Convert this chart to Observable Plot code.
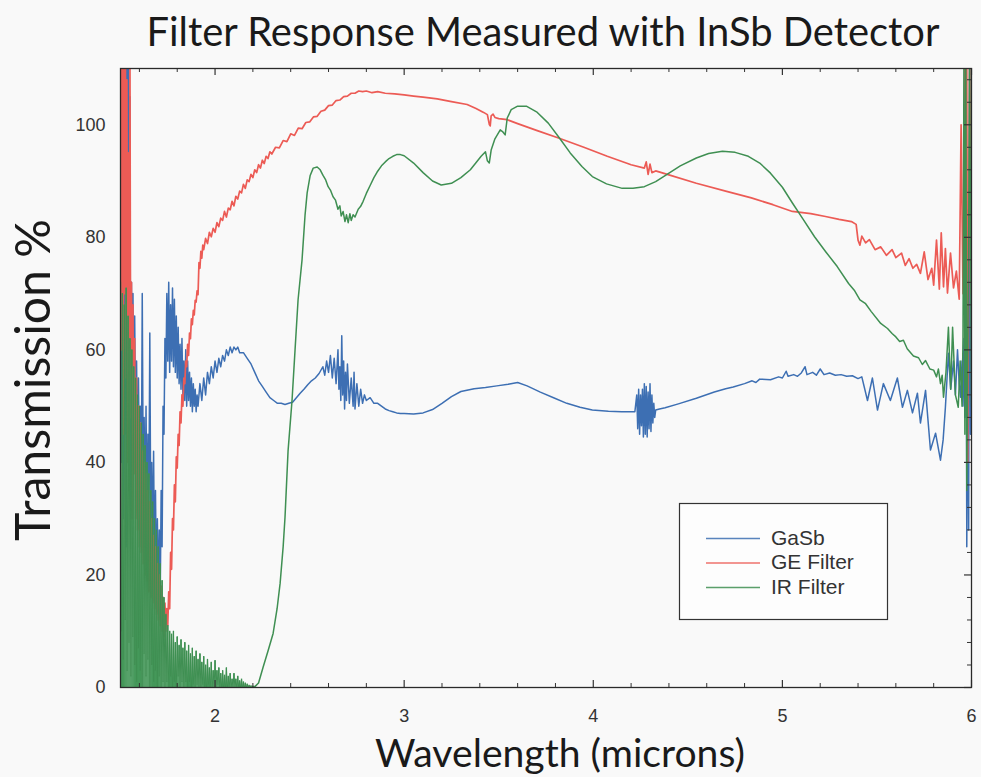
<!DOCTYPE html>
<html><head><meta charset="utf-8">
<script src="https://cdn.jsdelivr.net/npm/d3@7"></script>
<script src="https://cdn.jsdelivr.net/npm/@observablehq/plot@0.6"></script>
<style>
html,body{margin:0;padding:0;background:#f9f9f9;}
#wrap{width:981px;height:777px;overflow:hidden;background:#f9f9f9;}
</style></head><body><div id="wrap"></div>
<script>
// ---------- data ----------
const seriesNames = ["GaSb", "GE Filter", "IR Filter"];
const seriesColors = ["#3d6fb3", "#ec5b55", "#3f8f52"];

const xMajorTicks = [2, 3, 4, 5, 6];
const xMinorTicks = [1.6,1.8,2.2,2.4,2.6,2.8,3.2,3.4,3.6,3.8,4.2,4.4,4.6,4.8,5.2,5.4,5.6,5.8];
const yMajorTicks = [0, 20, 40, 60, 80, 100];
const yMinorTicks = [4,8,12,16,24,28,32,36,44,48,52,56,64,68,72,76,84,88,92,96,104,108];

// GaSb  [wavelength (µm), transmission %]
const gasb = [
[1.502,112],[1.506,40],[1.51,112],[1.514,30],[1.518,112],[1.522,45],[1.526,112],[1.53,25],[1.534,112],[1.538,50],[1.542,112],[1.546,35],[1.55,105],[1.554,30],[1.558,72],[1.562,40],[1.566,70],[1.57,42],[1.575,66],[1.58,45],[1.585,58],[1.59,40],[1.595,55],[1.6,38],[1.605,50],[1.61,35],[1.615,70],[1.62,38],[1.625,48],[1.63,30],[1.635,50],[1.64,28],[1.645,45],[1.65,32],[1.655,63],[1.66,30],[1.665,40],[1.67,24],[1.675,42],[1.68,20],[1.685,35],[1.69,17],[1.695,30],[1.7,15],[1.705,28],[1.71,16],[1.715,35],[1.72,25],[1.725,50],[1.73,45],[1.735,62],[1.74,55],[1.745,70],[1.75,58],[1.755,72],[1.76,56],[1.765,68],[1.77,58],[1.775,71],[1.78,57],[1.785,69],[1.79,56],[1.795,66],[1.8,55],[1.805,64],[1.81,54],[1.815,61],[1.82,53],[1.825,62],[1.83,52],[1.835,58],[1.84,51],[1.845,60],[1.85,50],[1.855,58],[1.86,51],[1.865,56],[1.87,50],[1.875,55],[1.88,49],[1.885,54],[1.89,50],[1.895,53],[1.9,49],[1.905,52],[1.91,50],[1.92,54],[1.93,51],[1.94,55],[1.95,52],[1.96,56],[1.97,54],[1.98,57],[1.99,55],[2.0,58],[2.01,56],[2.02,58.5],[2.03,57],[2.04,59],[2.05,58],[2.06,60],[2.07,59],[2.08,60.5],[2.09,59.5],[2.1,60.5],[2.11,60],[2.12,60.5],[2.13,59.5],[2.15,59.5],[2.17,58.5],[2.19,57.5],[2.21,56],[2.23,54.5],[2.25,53.5],[2.27,52.5],[2.29,51.5],[2.31,51],[2.33,50.5],[2.35,50.5],[2.37,50.3],[2.39,50.5],[2.41,50.7],[2.43,51.5],[2.45,52.3],[2.47,53],[2.49,53.8],[2.51,54.5],[2.53,55],[2.55,55.8],[2.57,57],[2.58,55.5],[2.59,58],[2.6,56],[2.61,59],[2.62,55],[2.63,58.5],[2.64,54],[2.65,60],[2.655,53],[2.66,57],[2.665,51],[2.67,62.5],[2.675,52],[2.68,58],[2.685,49.5],[2.69,56],[2.695,51],[2.7,57.5],[2.71,50.5],[2.72,55],[2.73,50],[2.735,56],[2.74,49.5],[2.75,54],[2.76,50],[2.77,53],[2.78,50.5],[2.79,52],[2.8,51],[2.82,51.5],[2.84,50.5],[2.86,50.5],[2.88,50],[2.9,49.5],[2.92,49.2],[2.94,49],[2.96,48.8],[2.98,48.7],[3.0,48.7],[3.05,48.6],[3.1,48.8],[3.15,49.4],[3.2,50.5],[3.25,51.7],[3.3,52.6],[3.37,53.1],[3.43,53.3],[3.49,53.6],[3.55,53.9],[3.6,54.2],[3.65,53.6],[3.72,52.5],[3.79,51.5],[3.86,50.5],[3.93,49.8],[3.995,49.3],[4.08,49.1],[4.15,49],[4.22,49],[4.23,52],[4.235,46],[4.24,53],[4.245,45],[4.25,52],[4.255,46.5],[4.26,53],[4.265,44.5],[4.27,54],[4.275,45],[4.28,53.5],[4.285,44.5],[4.29,52.5],[4.295,46],[4.3,54],[4.305,45.5],[4.31,52],[4.315,47],[4.32,50.5],[4.325,48],[4.33,49.3],[4.35,49.5],[4.38,49.7],[4.45,50.4],[4.545,51.4],[4.64,52.5],[4.7,53.1],[4.74,53.4],[4.8,54],[4.84,54.5],[4.86,54.2],[4.88,54.8],[4.937,54.7],[4.98,55.2],[5.0,55],[5.02,56.2],[5.03,55.3],[5.06,55.6],[5.08,55.3],[5.1,55.9],[5.12,57],[5.13,55.6],[5.16,56],[5.18,55.5],[5.2,56.6],[5.22,55.6],[5.25,55.9],[5.28,55.5],[5.31,55.6],[5.34,55.3],[5.37,55.4],[5.4,54.9],[5.42,55.2],[5.45,51],[5.476,55],[5.503,49.3],[5.534,54],[5.571,51],[5.608,55],[5.635,49.8],[5.661,52.8],[5.688,48.8],[5.714,52.3],[5.73,47],[5.757,52.8],[5.783,42.2],[5.81,45.2],[5.836,40.4],[5.85,44],[5.862,49.8],[5.878,59.4],[5.89,53],[5.905,58],[5.915,52],[5.926,60],[5.935,54],[5.942,51.6],[5.95,58],[5.955,50],[5.96,62],[5.965,48],[5.97,112],[5.975,25],[5.98,60],[5.985,28],[5.99,112],[5.995,45],[6.0,60]
];

// GE Filter
const geFilter = [
[1.502,112],[1.506,60],[1.51,112],[1.514,45],[1.518,112],[1.522,70],[1.526,112],[1.53,55],[1.534,108],[1.538,40],[1.542,95],[1.546,35],[1.55,112],[1.554,48],[1.558,72],[1.562,30],[1.566,68],[1.57,38],[1.575,62],[1.58,30],[1.585,55],[1.59,28],[1.595,50],[1.6,25],[1.605,47],[1.61,24],[1.615,42],[1.62,22],[1.625,40],[1.63,20],[1.635,38],[1.64,19],[1.645,35],[1.65,17],[1.655,33],[1.66,16],[1.665,30],[1.67,15],[1.675,27],[1.68,14],[1.685,25],[1.69,13],[1.695,22],[1.7,12],[1.705,20],[1.71,11],[1.715,18],[1.72,10],[1.725,16],[1.73,9],[1.735,15],[1.74,10],[1.745,14],[1.75,11],[1.755,17],[1.76,14],[1.765,24],[1.77,21],[1.775,30],[1.78,28],[1.785,36],[1.79,33],[1.795,41],[1.8,39],[1.805,45],[1.81,43],[1.815,49],[1.82,47],[1.825,52],[1.83,50],[1.835,55],[1.84,54],[1.845,58],[1.85,57],[1.855,61],[1.86,59],[1.865,63],[1.87,62],[1.875,65.5],[1.88,64.5],[1.885,67],[1.89,66.2],[1.895,68.8],[1.9,68.5],[1.905,70.5],[1.91,69.8],[1.915,75.5],[1.92,74.5],[1.925,77.5],[1.93,76.3],[1.935,78.6],[1.94,77.8],[1.95,79.8],[1.96,78.9],[1.97,80.9],[1.98,80.1],[1.99,81.6],[2.0,80.9],[2.01,82.6],[2.02,81.9],[2.03,83.4],[2.04,83],[2.05,84.6],[2.06,83.6],[2.07,85.2],[2.08,84.9],[2.09,86.4],[2.1,85.6],[2.11,87.3],[2.12,86.8],[2.13,88.2],[2.14,87.9],[2.15,89.4],[2.16,88.7],[2.17,90.2],[2.18,89.9],[2.19,91.2],[2.2,90.6],[2.21,92],[2.22,91.5],[2.23,92.9],[2.24,92.3],[2.25,93.7],[2.26,93.1],[2.27,94.4],[2.28,94],[2.29,95.2],[2.3,94.8],[2.32,96],[2.34,95.9],[2.36,97.2],[2.38,97],[2.4,98.4],[2.42,98.1],[2.44,99.4],[2.46,99.3],[2.48,100.4],[2.5,100.5],[2.52,101.4],[2.54,101.5],[2.56,102.4],[2.58,102.6],[2.6,103.4],[2.62,103.5],[2.64,104.3],[2.66,104.4],[2.68,105],[2.7,105.1],[2.72,105.6],[2.74,105.6],[2.76,106],[2.78,105.9],[2.8,106],[2.83,105.7],[2.86,105.9],[2.9,105.6],[2.95,105.5],[3.0,105.3],[3.05,105.1],[3.1,104.9],[3.175,104.6],[3.25,104.1],[3.333,103.6],[3.38,102.9],[3.42,102.2],[3.44,101.8],[3.45,100.1],[3.455,99.8],[3.46,101.6],[3.47,101.9],[3.48,101.3],[3.5,101.1],[3.545,100.9],[3.6,100.2],[3.7,99],[3.82,97.6],[3.95,96],[4.074,94.4],[4.2,92.9],[4.27,92.3],[4.28,93.4],[4.29,91.2],[4.3,93],[4.31,91.5],[4.33,91.8],[4.4,91.1],[4.545,89.6],[4.7,88.2],[4.836,87],[4.95,85.8],[5.053,84.6],[5.15,84.2],[5.228,83.7],[5.3,83.2],[5.365,82.8],[5.39,82.3],[5.4,79.5],[5.41,78.6],[5.42,80.2],[5.44,79],[5.46,79.6],[5.49,77.8],[5.52,78.3],[5.55,76.8],[5.58,77.8],[5.6,76.4],[5.63,77.2],[5.65,75],[5.67,76.2],[5.69,74.5],[5.71,75.2],[5.73,73.6],[5.75,77.4],[5.77,72.5],[5.79,74.5],[5.8,71.5],[5.815,79.5],[5.83,70.8],[5.84,80.8],[5.852,71.2],[5.862,78],[5.873,70.1],[5.889,77.2],[5.905,71],[5.92,74],[5.935,69],[5.945,100],[5.955,70],[5.96,80],[5.965,112],[5.97,55],[5.975,112],[5.98,40],[5.99,112],[6.0,70]
];

// IR Filter: noisy floor (up to 2.2 µm) then the measured curve
const irNoise = [
[1.5,72],[1.505,10],[1.51,70],[1.515,5],[1.52,68],[1.525,12],[1.53,71],[1.535,3],[1.54,66],[1.545,8],[1.55,62],[1.555,2],[1.56,60],[1.565,9],[1.57,57],[1.575,4],[1.58,55],[1.585,1],[1.59,52],[1.595,7],[1.6,50],[1.605,3],[1.61,47],[1.615,0],[1.62,45],[1.625,6],[1.63,43],[1.635,2],[1.64,40],[1.645,5],[1.65,38],[1.655,0],[1.66,35],[1.665,4],[1.67,33],[1.675,1],[1.68,30],[1.685,3],[1.69,28],[1.695,0],[1.7,25],[1.705,2],[1.71,22],[1.715,0],[1.72,19],[1.725,1],[1.73,16],[1.735,0],[1.74,13],[1.745,1],[1.75,11],[1.755,0],[1.76,10],[1.765,2],[1.77,9.5],[1.775,0],[1.78,10],[1.785,1],[1.79,8],[1.795,0],[1.8,9],[1.805,2],[1.81,7.5],[1.815,0],[1.82,8.5],[1.825,1],[1.83,7],[1.835,0],[1.84,8],[1.845,1],[1.85,6.5],[1.855,0],[1.86,7.5],[1.865,1],[1.87,6],[1.875,0],[1.88,7],[1.885,0.5],[1.89,5.5],[1.895,0],[1.9,6.5],[1.905,0.5],[1.91,5],[1.915,0],[1.92,6],[1.925,0],[1.93,4.5],[1.935,0.5],[1.94,5.5],[1.945,0],[1.95,4],[1.955,0],[1.96,5],[1.965,0.5],[1.97,3.5],[1.975,0],[1.98,4.5],[1.985,0],[1.99,3],[1.995,0],[2.0,4.8],[2.005,0],[2.01,3],[2.015,0.5],[2.02,3.5],[2.025,0],[2.03,2.5],[2.035,0],[2.04,3],[2.045,0],[2.05,2.2],[2.055,0],[2.06,3.5],[2.065,0],[2.07,2],[2.075,0],[2.08,2.5],[2.085,0],[2.09,1.5],[2.095,0],[2.1,2.5],[2.105,0],[2.11,1.5],[2.115,0],[2.12,2],[2.125,0],[2.13,1.2],[2.135,0],[2.14,1.5],[2.145,0],[2.15,1],[2.155,0],[2.16,0.8],[2.165,0],[2.17,0.6],[2.175,0],[2.18,0.4],[2.185,0],[2.19,0.3],[2.195,0],[2.2,0.2]
];
const irFilter = [
[2.2,0.2],[2.212,0.2],[2.23,0.8],[2.254,3.6],[2.28,6.5],[2.307,9.6],[2.328,14],[2.344,18.5],[2.36,25],[2.37,30.3],[2.386,42],[2.407,51],[2.423,60],[2.439,68.9],[2.46,76],[2.476,84],[2.487,87.9],[2.503,91],[2.519,92.3],[2.54,92.5],[2.556,92],[2.571,91],[2.585,90.2],[2.598,89],[2.61,88.4],[2.624,87.2],[2.637,86.6],[2.65,85],[2.66,85.6],[2.667,83.8],[2.677,84.6],[2.687,82.8],[2.695,84],[2.704,82.6],[2.713,84.2],[2.72,83],[2.73,84],[2.74,83.6],[2.757,85],[2.77,85.5],[2.783,86.4],[2.8,87.8],[2.82,89.2],[2.84,90.6],[2.857,91.6],[2.88,92.7],[2.9,93.4],[2.92,94],[2.94,94.4],[2.96,94.7],[2.98,94.7],[3.0,94.5],[3.05,93.2],[3.1,91.5],[3.15,90],[3.196,89.3],[3.25,89.6],[3.3,90.6],[3.35,92],[3.407,94.4],[3.43,95.2],[3.44,93.6],[3.45,93.2],[3.46,95.5],[3.48,97.5],[3.508,99.1],[3.52,98.8],[3.534,98.2],[3.545,101.2],[3.566,102.7],[3.6,103.3],[3.646,103.3],[3.7,102.3],[3.762,100.3],[3.82,97.7],[3.878,95],[3.94,92.6],[3.995,90.8],[4.07,89.5],[4.153,88.7],[4.21,88.7],[4.27,89],[4.33,89.9],[4.386,91.1],[4.46,92.7],[4.545,94.1],[4.61,94.9],[4.683,95.3],[4.75,95.1],[4.82,94.4],[4.88,93.2],[4.937,91.4],[5.0,88.9],[5.053,86.1],[5.11,83.2],[5.17,80.1],[5.23,77.4],[5.29,74.8],[5.35,71.8],[5.38,70.6],[5.41,68.9],[5.44,68.2],[5.47,66.8],[5.52,64.7],[5.556,63.8],[5.58,62.9],[5.6,62.3],[5.62,61.5],[5.64,61.7],[5.66,60.2],[5.693,58.9],[5.72,58.6],[5.74,57.4],[5.757,58.1],[5.78,56.6],[5.8,56.4],[5.815,55.2],[5.825,56.6],[5.836,54],[5.845,55.5],[5.852,51.6],[5.865,56],[5.878,64],[5.89,53],[5.9,64],[5.915,52],[5.93,49.8],[5.94,58],[5.95,50],[5.955,62],[5.96,112],[5.965,45],[5.97,112],[5.975,35],[5.985,80],[5.99,112],[6.0,50]
];

// ---------- chart ----------
const W = 981, H = 777;
const M = {left: 120, right: 10, top: 68, bottom: 90};
const frameW = W - M.left - M.right, frameH = H - M.top - M.bottom;
const tickColor = "#333";
const X = d => d[0], Y = d => d[1];

const svg = Plot.plot({
  width: W, height: H,
  marginLeft: M.left, marginRight: M.right, marginTop: M.top, marginBottom: M.bottom,
  x: {domain: [1.5, 6], axis: null},
  y: {domain: [0, 110], axis: null},
  style: {background: "transparent", fontFamily: "'Liberation Sans', Arial, sans-serif", overflow: "visible"},
  marks: [
    Plot.line(gasb, {x: X, y: Y, stroke: seriesColors[0], strokeWidth: 1.5, clip: true}),
    Plot.line(geFilter, {x: X, y: Y, stroke: seriesColors[1], strokeWidth: 1.7, clip: true}),
    Plot.ruleX(irNoise, {x: X, y1: 0, y2: Y, stroke: "#45985a", strokeWidth: 1.3, clip: true}),
    Plot.line(irNoise, {x: X, y: Y, stroke: "#3f8f52", strokeWidth: 1, clip: true}),
    Plot.line(irFilter, {x: X, y: Y, stroke: seriesColors[2], strokeWidth: 1.5, clip: true}),
    Plot.ruleX(xMajorTicks, {x: d => d, insetTop: frameH - 7, stroke: tickColor, strokeWidth: 1.2}),
    Plot.ruleX(xMajorTicks, {x: d => d, insetBottom: frameH - 7, stroke: tickColor, strokeWidth: 1.2}),
    Plot.ruleX(xMinorTicks, {x: d => d, insetTop: frameH - 4, stroke: tickColor, strokeWidth: 1}),
    Plot.ruleX(xMinorTicks, {x: d => d, insetBottom: frameH - 4, stroke: tickColor, strokeWidth: 1}),
    Plot.ruleY(yMajorTicks, {y: d => d, insetLeft: frameW - 7, stroke: tickColor, strokeWidth: 1.2}),
    Plot.ruleY(yMinorTicks, {y: d => d, insetLeft: frameW - 4, stroke: tickColor, strokeWidth: 1}),
    Plot.frame({stroke: "#2a2a2a", strokeWidth: 1.3}),
    Plot.text(xMajorTicks, {x: d => d, frameAnchor: "bottom", dy: 29, text: d => String(d),
      fontSize: 18, fill: "#333", lineAnchor: "middle"}),
    Plot.text(yMajorTicks, {y: d => d, frameAnchor: "left", dx: -15, textAnchor: "end",
      text: d => String(d), fontSize: 18, fill: "#333", lineAnchor: "middle"})
  ]
});
document.getElementById("wrap").appendChild(svg);

// ---------- titles (fitted to the reference widths) ----------
const ctx = document.createElement("canvas").getContext("2d");
function fitSize(str, family, target) {
  ctx.font = `100px ${family}`;
  return 100 * target / ctx.measureText(str).width;
}
const titleFont = "Lato, 'Open Sans', sans-serif";
const sel = d3.select(svg);
const titleText = "Filter Response Measured with InSb Detector";
const xTitle = "Wavelength (microns)";
const yTitle = "Transmission %";

sel.append("text").attr("x", 543).attr("y", 46).attr("text-anchor", "middle")
  .attr("font-family", titleFont).attr("font-size", fitSize(titleText, titleFont, 795))
  .attr("fill", "#1a1a1a").text(titleText);
sel.append("text").attr("x", 560).attr("y", 767).attr("text-anchor", "middle")
  .attr("font-family", titleFont).attr("font-size", fitSize(xTitle, titleFont, 370))
  .attr("fill", "#1a1a1a").text(xTitle);
sel.append("text").attr("transform", "translate(50,380) rotate(-90)").attr("text-anchor", "middle")
  .attr("font-family", titleFont).attr("font-size", fitSize(yTitle, titleFont, 322))
  .attr("fill", "#1a1a1a").text(yTitle);

// ---------- legend ----------
const lg = sel.append("g");
lg.append("rect").attr("x", 679.5).attr("y", 503.5).attr("width", 208).attr("height", 116)
  .attr("fill", "#fdfdfd").attr("stroke", "#333").attr("stroke-width", 1.2);
const legendRows = [537.5, 562, 586.5];
seriesNames.forEach((name, i) => {
  lg.append("line").attr("x1", 706).attr("x2", 760).attr("y1", legendRows[i] + 1).attr("y2", legendRows[i] + 1)
    .attr("stroke", seriesColors[i]).attr("stroke-width", 1.3).attr("opacity", 0.85);
  lg.append("text").attr("x", 771).attr("y", legendRows[i]).attr("dy", "0.35em")
    .attr("text-anchor", "start")
    .attr("font-family", "'Liberation Sans', Arial, sans-serif").attr("font-size", 21)
    .attr("fill", "#333").text(name);
});
</script></body></html>
